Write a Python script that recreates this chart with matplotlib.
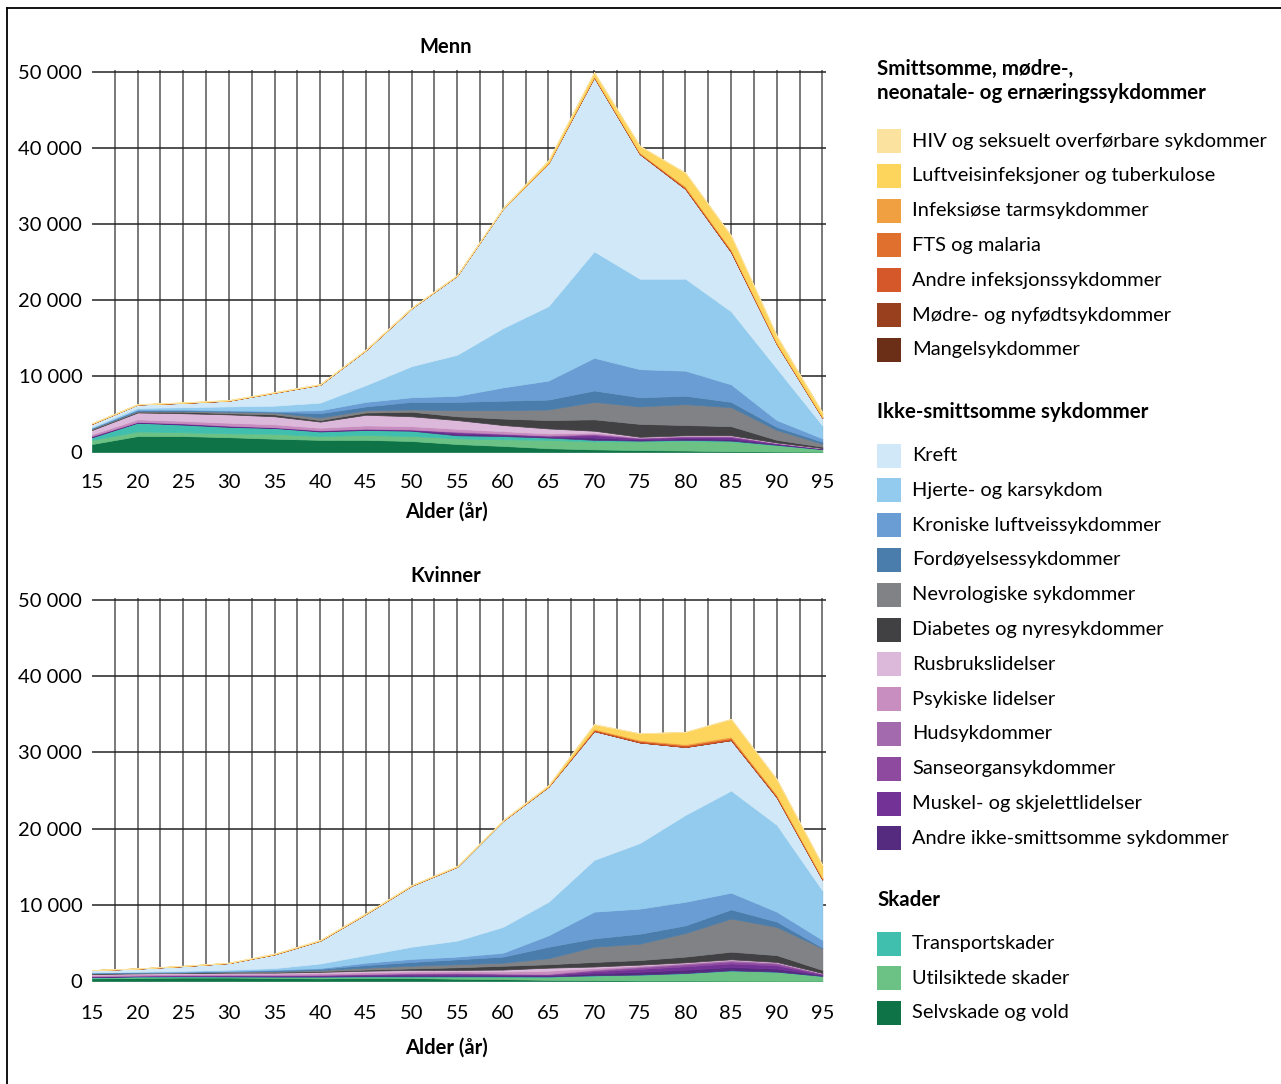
import matplotlib.pyplot as plt
from matplotlib.patches import Rectangle
from matplotlib.lines import Line2D
import numpy as np

plt.rcParams['font.family'] = ['Lato', 'DejaVu Sans']

W, H = 1281, 1084

ages = [15, 20, 25, 30, 35, 40, 45, 50, 55, 60, 65, 70, 75, 80, 85, 90, 95]
age_ticks = [15, 20, 25, 30, 35, 40, 45, 50, 55, 60, 65, 70, 75, 80, 85, 90, 95]
y_ticks = [0, 10000, 20000, 30000, 40000, 50000]
y_ticklabels = ["0", "10 000", "20 000", "30 000", "40 000", "50 000"]

# legend groups (top -> bottom as shown in legend)
smitt_names = ["HIV og seksuelt overførbare sykdommer", "Luftveisinfeksjoner og tuberkulose",
               "Infeksiøse tarmsykdommer", "FTS og malaria", "Andre infeksjonssykdommer",
               "Mødre- og nyfødtsykdommer", "Mangelsykdommer"]
smitt_colors = ["#fbe29f", "#fdd55c", "#f0a040", "#e0702e", "#d5582a", "#99401f", "#6b2e17"]

ikke_names = ["Kreft", "Hjerte- og karsykdom", "Kroniske luftveissykdommer", "Fordøyelsessykdommer",
              "Nevrologiske sykdommer", "Diabetes og nyresykdommer", "Rusbrukslidelser",
              "Psykiske lidelser", "Hudsykdommer", "Sanseorgansykdommer",
              "Muskel- og skjelettlidelser", "Andre ikke-smittsomme sykdommer"]
ikke_colors = ["#d0e8f7", "#93cbee", "#6a9dd3", "#4a7dab", "#808285", "#414143", "#dcb8da",
               "#c88ec0", "#a36aae", "#8d4a9e", "#733295", "#542b7f"]

skade_names = ["Transportskader", "Utilsiktede skader", "Selvskade og vold"]
skade_colors = ["#41bfae", "#6cc285", "#0e7347"]

# values in thousands, per layer (same order as legend)
menn = {
    "HIV og seksuelt overførbare sykdommer": [0.02, 0.02, 0.03, 0.03, 0.03, 0.03, 0.03, 0.03, 0.02, 0.02, 0.02, 0.02, 0.02, 0.01, 0.01, 0.01, 0.01],
    "Luftveisinfeksjoner og tuberkulose": [0.03, 0.02, 0.03, 0.03, 0.03, 0.03, 0.03, 0.03, 0.04, 0.05, 0.3, 0.5, 0.85, 1.8, 1.8, 0.9, 0.55],
    "Infeksiøse tarmsykdommer": [0.01, 0.0, 0.01, 0.01, 0.01, 0.01, 0.01, 0.01, 0.01, 0.01, 0.03, 0.05, 0.08, 0.12, 0.14, 0.08, 0.05],
    "FTS og malaria": [0.0, 0.0, 0.0, 0.0, 0.0, 0.0, 0.0, 0.0, 0.0, 0.0, 0.0, 0.0, 0.0, 0.0, 0.0, 0.0, 0.0],
    "Andre infeksjonssykdommer": [0.03, 0.01, 0.02, 0.02, 0.02, 0.02, 0.02, 0.02, 0.02, 0.02, 0.05, 0.1, 0.12, 0.2, 0.2, 0.1, 0.08],
    "Mødre- og nyfødtsykdommer": [0.0, 0.0, 0.0, 0.0, 0.0, 0.0, 0.0, 0.0, 0.0, 0.0, 0.0, 0.0, 0.0, 0.0, 0.0, 0.0, 0.0],
    "Mangelsykdommer": [0.01, 0.0, 0.01, 0.01, 0.01, 0.01, 0.01, 0.01, 0.01, 0.01, 0.01, 0.02, 0.02, 0.02, 0.02, 0.01, 0.01],
    "Kreft": [0.4, 0.45, 0.55, 0.75, 1.7, 2.35, 4.6, 7.6, 10.4, 15.7, 18.8, 22.9, 16.4, 11.8, 7.8, 3.2, 1.0],
    "Hjerte- og karsykdom": [0.1, 0.2, 0.3, 0.5, 0.7, 1.0, 2.2, 4.1, 5.4, 7.8, 9.8, 14.0, 11.9, 12.1, 9.6, 6.8, 1.7],
    "Kroniske luftveissykdommer": [0.05, 0.1, 0.1, 0.1, 0.1, 0.4, 0.6, 0.6, 0.8, 1.75, 2.5, 4.3, 3.7, 3.3, 2.3, 0.9, 0.45],
    "Fordøyelsessykdommer": [0.05, 0.1, 0.1, 0.1, 0.1, 0.55, 0.5, 1.0, 1.1, 1.25, 1.3, 1.5, 1.2, 1.1, 0.7, 0.4, 0.25],
    "Nevrologiske sykdommer": [0.1, 0.1, 0.1, 0.2, 0.25, 0.35, 0.3, 0.3, 0.8, 1.1, 1.4, 2.3, 2.3, 2.75, 2.5, 1.3, 0.4],
    "Diabetes og nyresykdommer": [0.1, 0.1, 0.2, 0.15, 0.25, 0.2, 0.3, 0.6, 0.5, 0.85, 1.1, 1.5, 1.7, 1.35, 1.2, 0.35, 0.18],
    "Rusbrukslidelser": [0.55, 0.9, 1.0, 1.1, 1.05, 0.8, 1.4, 1.3, 1.15, 0.8, 0.65, 0.25, 0.05, 0.05, 0.05, 0.03, 0.01],
    "Psykiske lidelser": [0.2, 0.3, 0.3, 0.35, 0.35, 0.3, 0.4, 0.4, 0.35, 0.3, 0.25, 0.15, 0.05, 0.05, 0.05, 0.02, 0.01],
    "Hudsykdommer": [0.03, 0.02, 0.02, 0.02, 0.02, 0.02, 0.02, 0.02, 0.05, 0.04, 0.03, 0.08, 0.04, 0.05, 0.06, 0.02, 0.01],
    "Sanseorgansykdommer": [0.03, 0.02, 0.03, 0.03, 0.02, 0.03, 0.03, 0.03, 0.07, 0.05, 0.05, 0.12, 0.06, 0.07, 0.09, 0.04, 0.02],
    "Muskel- og skjelettlidelser": [0.07, 0.05, 0.07, 0.07, 0.05, 0.07, 0.07, 0.07, 0.18, 0.12, 0.1, 0.3, 0.15, 0.18, 0.2, 0.09, 0.05],
    "Andre ikke-smittsomme sykdommer": [0.09, 0.06, 0.08, 0.08, 0.06, 0.08, 0.08, 0.08, 0.2, 0.14, 0.12, 0.3, 0.15, 0.2, 0.25, 0.1, 0.05],
    "Transportskader": [0.33, 1.15, 1.0, 0.85, 0.75, 0.6, 0.65, 0.7, 0.4, 0.43, 0.3, 0.2, 0.1, 0.1, 0.1, 0.05, 0.02],
    "Utilsiktede skader": [0.55, 0.6, 0.5, 0.5, 0.65, 0.5, 0.65, 0.65, 0.75, 0.87, 1.1, 1.05, 1.15, 1.3, 1.3, 0.85, 0.33],
    "Selvskade og vold": [1.05, 2.1, 2.1, 1.95, 1.75, 1.6, 1.6, 1.45, 1.05, 0.8, 0.5, 0.35, 0.25, 0.2, 0.1, 0.05, 0.02],
}

kvinner = {
    "HIV og seksuelt overførbare sykdommer": [0.01, 0.01, 0.01, 0.01, 0.01, 0.01, 0.01, 0.01, 0.01, 0.01, 0.01, 0.02, 0.02, 0.02, 0.03, 0.03, 0.03],
    "Luftveisinfeksjoner og tuberkulose": [0.01, 0.01, 0.02, 0.02, 0.05, 0.05, 0.05, 0.05, 0.05, 0.05, 0.12, 0.6, 0.85, 1.6, 2.3, 2.0, 1.6],
    "Infeksiøse tarmsykdommer": [0.0, 0.0, 0.01, 0.01, 0.01, 0.01, 0.01, 0.01, 0.01, 0.01, 0.02, 0.1, 0.12, 0.15, 0.2, 0.15, 0.12],
    "FTS og malaria": [0.0, 0.0, 0.0, 0.0, 0.0, 0.0, 0.0, 0.0, 0.0, 0.0, 0.0, 0.0, 0.0, 0.0, 0.0, 0.0, 0.0],
    "Andre infeksjonssykdommer": [0.01, 0.01, 0.01, 0.01, 0.03, 0.03, 0.03, 0.03, 0.03, 0.03, 0.05, 0.18, 0.2, 0.22, 0.25, 0.2, 0.15],
    "Mødre- og nyfødtsykdommer": [0.0, 0.01, 0.01, 0.01, 0.0, 0.0, 0.0, 0.0, 0.0, 0.0, 0.0, 0.0, 0.0, 0.0, 0.0, 0.0, 0.0],
    "Mangelsykdommer": [0.0, 0.0, 0.0, 0.0, 0.0, 0.0, 0.0, 0.0, 0.0, 0.0, 0.01, 0.01, 0.02, 0.02, 0.03, 0.02, 0.02],
    "Kreft": [0.27, 0.37, 0.6, 0.85, 1.8, 3.0, 5.4, 8.0, 9.7, 13.9, 15.1, 16.9, 13.2, 8.9, 6.6, 3.6, 1.4],
    "Hjerte- og karsykdom": [0.03, 0.07, 0.1, 0.15, 0.2, 0.6, 1.0, 1.6, 2.1, 3.4, 4.4, 6.8, 8.6, 11.4, 13.4, 11.4, 6.5],
    "Kroniske luftveissykdommer": [0.02, 0.03, 0.05, 0.05, 0.1, 0.1, 0.3, 0.4, 0.35, 0.5, 1.5, 3.5, 3.3, 3.1, 2.2, 1.3, 1.0],
    "Fordøyelsessykdommer": [0.05, 0.05, 0.05, 0.05, 0.1, 0.15, 0.35, 0.5, 0.65, 0.8, 1.5, 1.1, 1.3, 1.0, 1.2, 0.7, 0.1],
    "Nevrologiske sykdommer": [0.07, 0.05, 0.05, 0.1, 0.1, 0.15, 0.25, 0.35, 0.4, 0.4, 0.8, 2.0, 2.15, 3.1, 4.35, 3.7, 2.85],
    "Diabetes og nyresykdommer": [0.06, 0.05, 0.05, 0.05, 0.1, 0.1, 0.15, 0.2, 0.35, 0.5, 0.45, 0.6, 0.6, 0.75, 1.0, 0.9, 0.4],
    "Rusbrukslidelser": [0.13, 0.12, 0.12, 0.14, 0.14, 0.17, 0.2, 0.2, 0.17, 0.25, 0.4, 0.2, 0.12, 0.07, 0.07, 0.05, 0.02],
    "Psykiske lidelser": [0.13, 0.13, 0.13, 0.14, 0.14, 0.18, 0.2, 0.2, 0.18, 0.25, 0.4, 0.2, 0.13, 0.08, 0.08, 0.05, 0.03],
    "Hudsykdommer": [0.02, 0.02, 0.02, 0.03, 0.03, 0.03, 0.03, 0.05, 0.05, 0.04, 0.04, 0.08, 0.1, 0.12, 0.13, 0.12, 0.03],
    "Sanseorgansykdommer": [0.03, 0.03, 0.04, 0.04, 0.05, 0.06, 0.07, 0.08, 0.09, 0.08, 0.07, 0.15, 0.21, 0.25, 0.26, 0.23, 0.07],
    "Muskel- og skjelettlidelser": [0.05, 0.05, 0.06, 0.07, 0.08, 0.09, 0.11, 0.15, 0.17, 0.13, 0.12, 0.26, 0.37, 0.44, 0.46, 0.41, 0.11],
    "Andre ikke-smittsomme sykdommer": [0.06, 0.05, 0.06, 0.08, 0.08, 0.09, 0.12, 0.15, 0.17, 0.13, 0.12, 0.26, 0.37, 0.44, 0.45, 0.41, 0.12],
    "Transportskader": [0.08, 0.1, 0.07, 0.05, 0.08, 0.08, 0.07, 0.07, 0.07, 0.07, 0.05, 0.05, 0.05, 0.05, 0.05, 0.03, 0.02],
    "Utilsiktede skader": [0.07, 0.1, 0.1, 0.1, 0.1, 0.15, 0.15, 0.15, 0.25, 0.3, 0.4, 0.6, 0.75, 0.95, 1.32, 1.18, 0.64],
    "Selvskade og vold": [0.35, 0.4, 0.45, 0.45, 0.4, 0.35, 0.4, 0.4, 0.3, 0.25, 0.15, 0.1, 0.05, 0.05, 0.03, 0.02, 0.01],
}

all_names = smitt_names + ikke_names + skade_names
all_colors = smitt_colors + ikke_colors + skade_colors
# stack order: bottom -> top is the reverse of legend order
stack_names = all_names[::-1]
stack_colors = all_colors[::-1]


def fx(px):
    return px / W


def fy(py):
    return 1 - py / H


fig = plt.figure(figsize=(W / 100, H / 100), dpi=100)


def draw_panel(data, top_px, zero_px, title, title_px, xlab_px, xpad):
    ymax = 50300
    top_line = zero_px - (zero_px - top_px) * ymax / 50000
    ax = fig.add_axes([fx(92), fy(zero_px), fx(826) - fx(92), fy(top_line) - fy(zero_px)])
    ys = [np.array(data[n]) * 1000 for n in stack_names]
    ax.stackplot(ages, ys, colors=stack_colors, lw=0.5, edgecolor='face', zorder=3)
    ax.set_xlim(15, 95.4)
    ax.set_ylim(0, ymax)
    # grid: every 2.5 years, every 5000
    for v in np.arange(17.5, 95.1, 2.5):
        ax.axvline(v, color='#555555', lw=1.1, zorder=1)
    for t in y_ticks[1:]:
        ax.axhline(t, color='#222222', lw=1.1, zorder=1)
    ax.set_xticks(age_ticks)
    ax.set_xticklabels([str(a) for a in age_ticks], fontsize=14.5)
    ax.set_yticks(y_ticks)
    ax.set_yticklabels(y_ticklabels, fontsize=14.5)
    ax.tick_params(axis='y', length=0, pad=7)
    ax.tick_params(axis='x', length=0, pad=xpad)
    for s in ax.spines.values():
        s.set_visible(False)
    fig.text(fx(446), fy(title_px), title, fontsize=14.5, fontweight='bold', ha='center', va='center')
    fig.text(fx(446), fy(xlab_px), "Alder (år)", fontsize=14.5, fontweight='bold', ha='center', va='center')
    return ax


draw_panel(menn, 72, 452, "Menn", 47, 512, 16)
draw_panel(kvinner, 600, 981, "Kvinner", 576, 1048, 17.5)

# legend
tx, px0, box = 912, 877, 24


def legend_group(heading_lines, names, colors, first_y, step=34.8):
    for text, yy in heading_lines:
        fig.text(fx(px0), fy(yy), text, fontsize=14.8, fontweight='bold', ha='left', va='center')
    for i, (n, c) in enumerate(zip(names, colors)):
        yc = first_y + i * step
        fig.patches.append(Rectangle((fx(px0), fy(yc + box / 2)), box / W, box / H,
                                     transform=fig.transFigure, facecolor=c, edgecolor='none'))
        fig.text(fx(tx), fy(yc), n, fontsize=14.4, ha='left', va='center')


legend_group([("Smittsomme, mødre-,", 69), ("neonatale- og ernæringssykdommer", 93)],
             smitt_names, smitt_colors, 141)
legend_group([("Ikke-smittsomme sykdommer", 412)], ikke_names, ikke_colors, 455.5)
legend_group([("Skader", 900)], skade_names, skade_colors, 943.5, step=34.5)

# outer frame (left and top edges)
fig.add_artist(Line2D([fx(6.5), fx(6.5)], [fy(7.5), 0], transform=fig.transFigure, color='black', lw=1.3))
fig.add_artist(Line2D([fx(6.5), 1], [fy(7.5), fy(7.5)], transform=fig.transFigure, color='black', lw=1.3))

fig.savefig("out.png", dpi=100, facecolor='white')
